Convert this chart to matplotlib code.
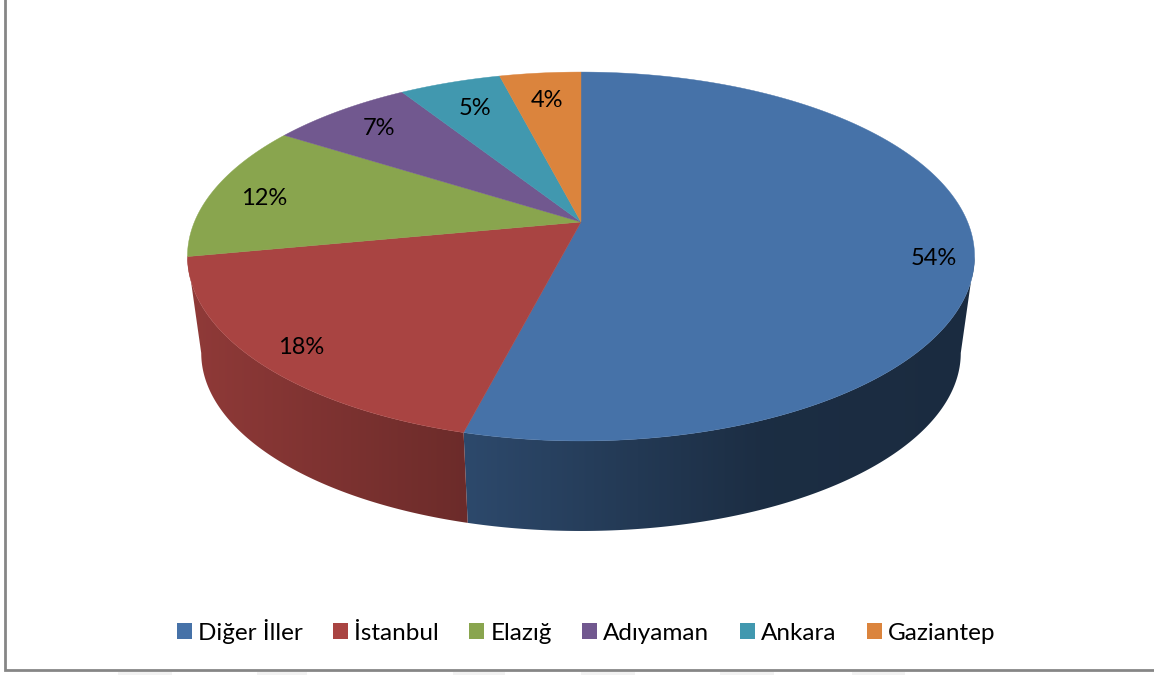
import numpy as np
import matplotlib
matplotlib.use("Agg")
import matplotlib.pyplot as plt
from matplotlib.colors import to_rgb
from matplotlib.patches import Patch, Polygon, Rectangle

# veriler
iller = ["Diğer İller", "İstanbul", "Elazığ", "Adıyaman", "Ankara", "Gaziantep"]
oranlar = [54, 18, 12, 7, 5, 4]
renkler = ["#4672A8", "#A94442", "#89A54E", "#71588F", "#4198AF", "#DB843D"]

# perspektif ayarlari (piksel)
cx, cy = 581, 222
a, b, k = 386.6, 178, 0.187
olcek, kalinlik = 0.965, 97.7
etiket_r = [0.90, 0.88, 0.86, 0.82, 0.78, 0.80]
etiket_dy = [16, 5, 4, 0, -1, 2]


def ust_yuz(aci, r=1.0):  # aci: tepeden saat yonunde, radyan
    u, v = r * np.sin(aci), r * np.cos(aci)
    w = 1 + k * v
    return cx + a * u / w, cy - b * v / w


def alt_yuz(aci):
    x, y = ust_yuz(aci)
    return cx + olcek * (x - cx), cy + olcek * (y - cy) + kalinlik


def golge(x):  # yan yuzey soldan saga koyulasir
    return np.interp(x, [190, 465, 760, 980], [0.85, 0.64, 0.40, 0.38])


plt.rcParams["font.family"] = ["Lato", "DejaVu Sans"]

fig = plt.figure(figsize=(11.54, 6.75), dpi=100)
ax = fig.add_axes([0, 0, 1, 1])
ax.axis("off")

sinirlar = np.cumsum([0] + oranlar) / sum(oranlar) * 2 * np.pi
xler = np.arange(0, 1154)

# yan yuzey, sadece elipsin en sag ve en sol noktasi arasi gorunur
sag_uc = np.arccos(-k)
sol_uc = 2 * np.pi - sag_uc
for i, renk in enumerate(renkler):
    bas, son = max(sinirlar[i], sag_uc), min(sinirlar[i + 1], sol_uc)
    if bas >= son:
        continue
    acilar = np.linspace(bas, son, 200)
    x1, y1 = ust_yuz(acilar)
    x2, y2 = alt_yuz(acilar)
    kose = np.c_[np.r_[x1, x2[::-1]], np.r_[y1, y2[::-1]]]
    serit = np.array(to_rgb(renk)) * golge(xler)[:, None]
    resim = ax.imshow(serit[None, :, :], extent=(0, 1154, 675, 0), aspect="auto", interpolation="bilinear")
    resim.set_clip_path(Polygon(kose, transform=ax.transData))

ax.set_xlim(0, 1154)
ax.set_ylim(675, 0)

# ust yuzey
for i, renk in enumerate(renkler):
    acilar = np.linspace(sinirlar[i], sinirlar[i + 1], int(oranlar[i] * 8) + 2)
    x, y = ust_yuz(acilar)
    ax.fill(np.r_[cx, x], np.r_[cy, y], facecolor=renk, edgecolor=renk, linewidth=0.3)

# etiketler
for i, oran in enumerate(oranlar):
    x, y = ust_yuz((sinirlar[i] + sinirlar[i + 1]) / 2, etiket_r[i])
    ax.text(x, y + etiket_dy[i], f"{oran}%", ha="center", va="center", fontsize=17, color="black")

# cerceve
ax.plot([5, 5, 1154], [0, 669.5, 669.5], color="#868686", lw=2, solid_joinstyle="miter")

# alttaki soluk lekeler
for x0, x1 in [(118, 172), (257, 307), (453, 505), (581, 635), (720, 774), (852, 905)]:
    ax.add_patch(Rectangle((x0, 672), x1 - x0, 3, facecolor="#f2f2f2", edgecolor="none"))

tutamac = [Patch(facecolor=r, edgecolor="none") for r in renkler]
ax.legend(tutamac, iller, ncols=6, frameon=False, fontsize=17.5,
          loc="center", bbox_to_anchor=(586 / 1154, 1 - 631 / 675),
          handlelength=0.62, handleheight=0.62, handletextpad=0.25,
          columnspacing=1.25, borderpad=0, labelcolor="black")

fig.savefig("out.png", dpi=100)
